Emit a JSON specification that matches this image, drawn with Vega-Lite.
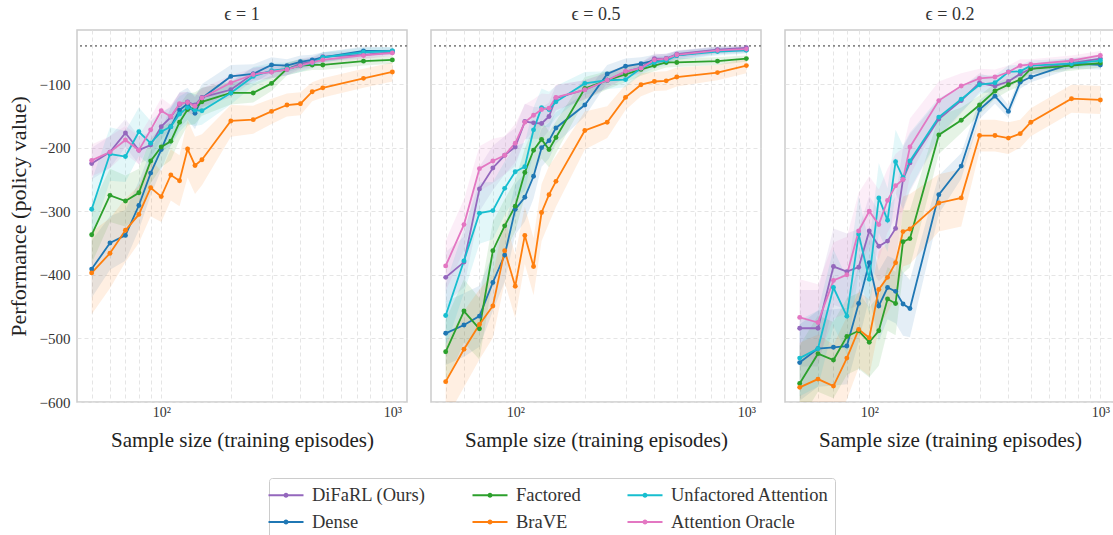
{
"$schema": "https://vega.github.io/schema/vega-lite/v6.json",
"padding": {"left": 7, "top": 6, "right": 0, "bottom": 0},
"bounds": "flush",
"data": {"values": "e,m,x,y,s\nϵ = 1,DiFaRL (Ours),50,-225,25\nϵ = 1,DiFaRL (Ours),60,-207,25\nϵ = 1,DiFaRL (Ours),70,-177,22\nϵ = 1,DiFaRL (Ours),80,-204,22\nϵ = 1,DiFaRL (Ours),90,-196,20\nϵ = 1,DiFaRL (Ours),100,-167,20\nϵ = 1,DiFaRL (Ours),110,-152,18\nϵ = 1,DiFaRL (Ours),120,-132,18\nϵ = 1,DiFaRL (Ours),130,-128,16\nϵ = 1,DiFaRL (Ours),140,-133,16\nϵ = 1,DiFaRL (Ours),150,-121,15\nϵ = 1,DiFaRL (Ours),200,-109,12\nϵ = 1,DiFaRL (Ours),250,-84,10\nϵ = 1,DiFaRL (Ours),300,-81,10\nϵ = 1,DiFaRL (Ours),350,-77,9\nϵ = 1,DiFaRL (Ours),400,-68,8\nϵ = 1,DiFaRL (Ours),450,-65,8\nϵ = 1,DiFaRL (Ours),500,-57,7\nϵ = 1,DiFaRL (Ours),750,-54,6\nϵ = 1,DiFaRL (Ours),1000,-50,5\nϵ = 1,Dense,50,-391,45\nϵ = 1,Dense,60,-350,42\nϵ = 1,Dense,70,-338,40\nϵ = 1,Dense,80,-291,38\nϵ = 1,Dense,90,-240,35\nϵ = 1,Dense,100,-203,32\nϵ = 1,Dense,110,-167,30\nϵ = 1,Dense,120,-141,28\nϵ = 1,Dense,130,-131,25\nϵ = 1,Dense,140,-146,25\nϵ = 1,Dense,150,-122,22\nϵ = 1,Dense,200,-88,18\nϵ = 1,Dense,250,-84,15\nϵ = 1,Dense,300,-70,12\nϵ = 1,Dense,350,-71,10\nϵ = 1,Dense,400,-65,10\nϵ = 1,Dense,450,-62,8\nϵ = 1,Dense,500,-58,8\nϵ = 1,Dense,750,-48,7\nϵ = 1,Dense,1000,-48,6\nϵ = 1,Factored,50,-337,45\nϵ = 1,Factored,60,-275,42\nϵ = 1,Factored,70,-284,40\nϵ = 1,Factored,80,-271,38\nϵ = 1,Factored,90,-221,35\nϵ = 1,Factored,100,-199,32\nϵ = 1,Factored,110,-190,30\nϵ = 1,Factored,120,-160,28\nϵ = 1,Factored,130,-140,25\nϵ = 1,Factored,140,-138,25\nϵ = 1,Factored,150,-128,22\nϵ = 1,Factored,200,-114,18\nϵ = 1,Factored,250,-114,15\nϵ = 1,Factored,300,-99,12\nϵ = 1,Factored,350,-76,10\nϵ = 1,Factored,400,-71,10\nϵ = 1,Factored,450,-70,8\nϵ = 1,Factored,500,-70,8\nϵ = 1,Factored,750,-64,7\nϵ = 1,Factored,1000,-62,6\nϵ = 1,BraVE,50,-397,65\nϵ = 1,BraVE,60,-366,55\nϵ = 1,BraVE,70,-330,50\nϵ = 1,BraVE,80,-305,45\nϵ = 1,BraVE,90,-263,45\nϵ = 1,BraVE,100,-277,40\nϵ = 1,BraVE,110,-243,40\nϵ = 1,BraVE,120,-252,40\nϵ = 1,BraVE,130,-202,45\nϵ = 1,BraVE,140,-228,45\nϵ = 1,BraVE,150,-219,40\nϵ = 1,BraVE,200,-158,25\nϵ = 1,BraVE,250,-156,22\nϵ = 1,BraVE,300,-143,20\nϵ = 1,BraVE,350,-133,18\nϵ = 1,BraVE,400,-131,18\nϵ = 1,BraVE,450,-112,15\nϵ = 1,BraVE,500,-106,15\nϵ = 1,BraVE,750,-91,15\nϵ = 1,BraVE,1000,-81,15\nϵ = 1,Unfactored Attention,50,-297,45\nϵ = 1,Unfactored Attention,60,-210,42\nϵ = 1,Unfactored Attention,70,-214,40\nϵ = 1,Unfactored Attention,80,-175,38\nϵ = 1,Unfactored Attention,90,-193,35\nϵ = 1,Unfactored Attention,100,-175,32\nϵ = 1,Unfactored Attention,110,-167,30\nϵ = 1,Unfactored Attention,120,-147,28\nϵ = 1,Unfactored Attention,130,-137,25\nϵ = 1,Unfactored Attention,140,-141,25\nϵ = 1,Unfactored Attention,150,-142,22\nϵ = 1,Unfactored Attention,200,-114,18\nϵ = 1,Unfactored Attention,250,-88,15\nϵ = 1,Unfactored Attention,300,-79,12\nϵ = 1,Unfactored Attention,350,-76,10\nϵ = 1,Unfactored Attention,400,-71,10\nϵ = 1,Unfactored Attention,450,-67,8\nϵ = 1,Unfactored Attention,500,-58,8\nϵ = 1,Unfactored Attention,750,-50,7\nϵ = 1,Unfactored Attention,1000,-48,6\nϵ = 1,Attention Oracle,50,-220,25\nϵ = 1,Attention Oracle,60,-207,25\nϵ = 1,Attention Oracle,70,-188,22\nϵ = 1,Attention Oracle,80,-204,22\nϵ = 1,Attention Oracle,90,-172,20\nϵ = 1,Attention Oracle,100,-142,20\nϵ = 1,Attention Oracle,110,-151,18\nϵ = 1,Attention Oracle,120,-131,18\nϵ = 1,Attention Oracle,130,-129,16\nϵ = 1,Attention Oracle,140,-135,16\nϵ = 1,Attention Oracle,150,-122,15\nϵ = 1,Attention Oracle,200,-98,12\nϵ = 1,Attention Oracle,250,-85,10\nϵ = 1,Attention Oracle,300,-81,10\nϵ = 1,Attention Oracle,350,-77,9\nϵ = 1,Attention Oracle,400,-71,8\nϵ = 1,Attention Oracle,450,-66,8\nϵ = 1,Attention Oracle,500,-62,7\nϵ = 1,Attention Oracle,750,-55,6\nϵ = 1,Attention Oracle,1000,-51,5\nϵ = 0.5,DiFaRL (Ours),50,-404,40\nϵ = 0.5,DiFaRL (Ours),60,-380,40\nϵ = 0.5,DiFaRL (Ours),70,-265,35\nϵ = 0.5,DiFaRL (Ours),80,-232,35\nϵ = 0.5,DiFaRL (Ours),90,-212,30\nϵ = 0.5,DiFaRL (Ours),100,-199,30\nϵ = 0.5,DiFaRL (Ours),110,-159,28\nϵ = 0.5,DiFaRL (Ours),120,-161,25\nϵ = 0.5,DiFaRL (Ours),130,-162,25\nϵ = 0.5,DiFaRL (Ours),140,-151,22\nϵ = 0.5,DiFaRL (Ours),150,-122,20\nϵ = 0.5,DiFaRL (Ours),200,-109,15\nϵ = 0.5,DiFaRL (Ours),250,-94,12\nϵ = 0.5,DiFaRL (Ours),300,-81,10\nϵ = 0.5,DiFaRL (Ours),350,-74,8\nϵ = 0.5,DiFaRL (Ours),400,-60,8\nϵ = 0.5,DiFaRL (Ours),450,-60,7\nϵ = 0.5,DiFaRL (Ours),500,-53,6\nϵ = 0.5,DiFaRL (Ours),750,-46,5\nϵ = 0.5,DiFaRL (Ours),1000,-43,5\nϵ = 0.5,Dense,50,-492,50\nϵ = 0.5,Dense,60,-479,50\nϵ = 0.5,Dense,70,-465,48\nϵ = 0.5,Dense,80,-412,45\nϵ = 0.5,Dense,90,-369,42\nϵ = 0.5,Dense,100,-297,40\nϵ = 0.5,Dense,110,-278,38\nϵ = 0.5,Dense,120,-245,35\nϵ = 0.5,Dense,130,-200,30\nϵ = 0.5,Dense,140,-189,28\nϵ = 0.5,Dense,150,-169,25\nϵ = 0.5,Dense,200,-133,18\nϵ = 0.5,Dense,250,-84,14\nϵ = 0.5,Dense,300,-72,12\nϵ = 0.5,Dense,350,-68,10\nϵ = 0.5,Dense,400,-63,9\nϵ = 0.5,Dense,450,-60,8\nϵ = 0.5,Dense,500,-55,7\nϵ = 0.5,Dense,750,-47,6\nϵ = 0.5,Dense,1000,-46,5\nϵ = 0.5,Factored,50,-521,50\nϵ = 0.5,Factored,60,-457,50\nϵ = 0.5,Factored,70,-485,48\nϵ = 0.5,Factored,80,-362,45\nϵ = 0.5,Factored,90,-323,42\nϵ = 0.5,Factored,100,-292,40\nϵ = 0.5,Factored,110,-239,38\nϵ = 0.5,Factored,120,-204,35\nϵ = 0.5,Factored,130,-187,30\nϵ = 0.5,Factored,140,-203,28\nϵ = 0.5,Factored,150,-184,25\nϵ = 0.5,Factored,200,-107,18\nϵ = 0.5,Factored,250,-94,14\nϵ = 0.5,Factored,300,-85,12\nϵ = 0.5,Factored,350,-77,10\nϵ = 0.5,Factored,400,-71,9\nϵ = 0.5,Factored,450,-66,8\nϵ = 0.5,Factored,500,-66,7\nϵ = 0.5,Factored,750,-64,6\nϵ = 0.5,Factored,1000,-60,5\nϵ = 0.5,BraVE,50,-568,60\nϵ = 0.5,BraVE,60,-517,60\nϵ = 0.5,BraVE,70,-478,55\nϵ = 0.5,BraVE,80,-449,50\nϵ = 0.5,BraVE,90,-362,50\nϵ = 0.5,BraVE,100,-418,50\nϵ = 0.5,BraVE,110,-338,45\nϵ = 0.5,BraVE,120,-387,45\nϵ = 0.5,BraVE,130,-302,45\nϵ = 0.5,BraVE,140,-274,45\nϵ = 0.5,BraVE,150,-253,40\nϵ = 0.5,BraVE,200,-173,30\nϵ = 0.5,BraVE,250,-160,25\nϵ = 0.5,BraVE,300,-121,20\nϵ = 0.5,BraVE,350,-101,18\nϵ = 0.5,BraVE,400,-96,15\nϵ = 0.5,BraVE,450,-95,15\nϵ = 0.5,BraVE,500,-89,15\nϵ = 0.5,BraVE,750,-82,12\nϵ = 0.5,BraVE,1000,-71,12\nϵ = 0.5,Unfactored Attention,50,-464,50\nϵ = 0.5,Unfactored Attention,60,-378,50\nϵ = 0.5,Unfactored Attention,70,-303,48\nϵ = 0.5,Unfactored Attention,80,-299,45\nϵ = 0.5,Unfactored Attention,90,-264,42\nϵ = 0.5,Unfactored Attention,100,-238,40\nϵ = 0.5,Unfactored Attention,110,-230,38\nϵ = 0.5,Unfactored Attention,120,-172,35\nϵ = 0.5,Unfactored Attention,130,-137,30\nϵ = 0.5,Unfactored Attention,140,-140,28\nϵ = 0.5,Unfactored Attention,150,-128,25\nϵ = 0.5,Unfactored Attention,200,-99,18\nϵ = 0.5,Unfactored Attention,250,-94,14\nϵ = 0.5,Unfactored Attention,300,-93,12\nϵ = 0.5,Unfactored Attention,350,-75,10\nϵ = 0.5,Unfactored Attention,400,-66,9\nϵ = 0.5,Unfactored Attention,450,-63,8\nϵ = 0.5,Unfactored Attention,500,-55,7\nϵ = 0.5,Unfactored Attention,750,-49,6\nϵ = 0.5,Unfactored Attention,1000,-47,5\nϵ = 0.5,Attention Oracle,50,-386,40\nϵ = 0.5,Attention Oracle,60,-321,40\nϵ = 0.5,Attention Oracle,70,-233,35\nϵ = 0.5,Attention Oracle,80,-221,35\nϵ = 0.5,Attention Oracle,90,-212,30\nϵ = 0.5,Attention Oracle,100,-193,30\nϵ = 0.5,Attention Oracle,110,-160,28\nϵ = 0.5,Attention Oracle,120,-149,25\nϵ = 0.5,Attention Oracle,130,-140,25\nϵ = 0.5,Attention Oracle,140,-138,22\nϵ = 0.5,Attention Oracle,150,-121,20\nϵ = 0.5,Attention Oracle,200,-109,15\nϵ = 0.5,Attention Oracle,250,-94,12\nϵ = 0.5,Attention Oracle,300,-80,10\nϵ = 0.5,Attention Oracle,350,-75,8\nϵ = 0.5,Attention Oracle,400,-62,8\nϵ = 0.5,Attention Oracle,450,-60,7\nϵ = 0.5,Attention Oracle,500,-54,6\nϵ = 0.5,Attention Oracle,750,-47,5\nϵ = 0.5,Attention Oracle,1000,-45,5\nϵ = 0.2,DiFaRL (Ours),50,-484,60\nϵ = 0.2,DiFaRL (Ours),60,-484,60\nϵ = 0.2,DiFaRL (Ours),70,-387,60\nϵ = 0.2,DiFaRL (Ours),80,-395,60\nϵ = 0.2,DiFaRL (Ours),90,-388,60\nϵ = 0.2,DiFaRL (Ours),100,-331,55\nϵ = 0.2,DiFaRL (Ours),110,-355,55\nϵ = 0.2,DiFaRL (Ours),120,-347,50\nϵ = 0.2,DiFaRL (Ours),130,-327,50\nϵ = 0.2,DiFaRL (Ours),140,-250,50\nϵ = 0.2,DiFaRL (Ours),150,-224,45\nϵ = 0.2,DiFaRL (Ours),200,-155,30\nϵ = 0.2,DiFaRL (Ours),250,-126,20\nϵ = 0.2,DiFaRL (Ours),300,-98,15\nϵ = 0.2,DiFaRL (Ours),350,-103,12\nϵ = 0.2,DiFaRL (Ours),400,-96,10\nϵ = 0.2,DiFaRL (Ours),450,-84,10\nϵ = 0.2,DiFaRL (Ours),500,-76,8\nϵ = 0.2,DiFaRL (Ours),750,-67,8\nϵ = 0.2,DiFaRL (Ours),1000,-60,7\nϵ = 0.2,Dense,50,-538,60\nϵ = 0.2,Dense,60,-516,60\nϵ = 0.2,Dense,70,-514,60\nϵ = 0.2,Dense,80,-512,60\nϵ = 0.2,Dense,90,-445,60\nϵ = 0.2,Dense,100,-381,55\nϵ = 0.2,Dense,110,-449,55\nϵ = 0.2,Dense,120,-420,50\nϵ = 0.2,Dense,130,-426,50\nϵ = 0.2,Dense,140,-446,50\nϵ = 0.2,Dense,150,-453,45\nϵ = 0.2,Dense,200,-274,30\nϵ = 0.2,Dense,250,-229,20\nϵ = 0.2,Dense,300,-140,15\nϵ = 0.2,Dense,350,-119,12\nϵ = 0.2,Dense,400,-143,10\nϵ = 0.2,Dense,450,-97,10\nϵ = 0.2,Dense,500,-89,8\nϵ = 0.2,Dense,750,-68,8\nϵ = 0.2,Dense,1000,-70,7\nϵ = 0.2,Factored,50,-571,60\nϵ = 0.2,Factored,60,-524,60\nϵ = 0.2,Factored,70,-534,60\nϵ = 0.2,Factored,80,-497,60\nϵ = 0.2,Factored,90,-488,60\nϵ = 0.2,Factored,100,-506,55\nϵ = 0.2,Factored,110,-488,55\nϵ = 0.2,Factored,120,-438,50\nϵ = 0.2,Factored,130,-445,50\nϵ = 0.2,Factored,140,-348,50\nϵ = 0.2,Factored,150,-343,45\nϵ = 0.2,Factored,200,-180,30\nϵ = 0.2,Factored,250,-157,20\nϵ = 0.2,Factored,300,-133,15\nϵ = 0.2,Factored,350,-111,12\nϵ = 0.2,Factored,400,-101,10\nϵ = 0.2,Factored,450,-93,10\nϵ = 0.2,Factored,500,-76,8\nϵ = 0.2,Factored,750,-71,8\nϵ = 0.2,Factored,1000,-67,7\nϵ = 0.2,BraVE,50,-577,70\nϵ = 0.2,BraVE,60,-564,70\nϵ = 0.2,BraVE,70,-575,65\nϵ = 0.2,BraVE,80,-531,65\nϵ = 0.2,BraVE,90,-486,60\nϵ = 0.2,BraVE,100,-499,60\nϵ = 0.2,BraVE,110,-423,60\nϵ = 0.2,BraVE,120,-404,55\nϵ = 0.2,BraVE,130,-381,55\nϵ = 0.2,BraVE,140,-332,55\nϵ = 0.2,BraVE,150,-328,55\nϵ = 0.2,BraVE,200,-287,45\nϵ = 0.2,BraVE,250,-279,45\nϵ = 0.2,BraVE,300,-181,25\nϵ = 0.2,BraVE,350,-181,25\nϵ = 0.2,BraVE,400,-185,25\nϵ = 0.2,BraVE,450,-178,22\nϵ = 0.2,BraVE,500,-160,22\nϵ = 0.2,BraVE,750,-123,22\nϵ = 0.2,BraVE,1000,-125,22\nϵ = 0.2,Unfactored Attention,50,-531,60\nϵ = 0.2,Unfactored Attention,60,-516,60\nϵ = 0.2,Unfactored Attention,70,-420,60\nϵ = 0.2,Unfactored Attention,80,-465,60\nϵ = 0.2,Unfactored Attention,90,-336,60\nϵ = 0.2,Unfactored Attention,100,-407,55\nϵ = 0.2,Unfactored Attention,110,-279,55\nϵ = 0.2,Unfactored Attention,120,-314,50\nϵ = 0.2,Unfactored Attention,130,-222,50\nϵ = 0.2,Unfactored Attention,140,-247,50\nϵ = 0.2,Unfactored Attention,150,-221,45\nϵ = 0.2,Unfactored Attention,200,-152,30\nϵ = 0.2,Unfactored Attention,250,-124,20\nϵ = 0.2,Unfactored Attention,300,-101,15\nϵ = 0.2,Unfactored Attention,350,-98,12\nϵ = 0.2,Unfactored Attention,400,-81,10\nϵ = 0.2,Unfactored Attention,450,-80,10\nϵ = 0.2,Unfactored Attention,500,-71,8\nϵ = 0.2,Unfactored Attention,750,-68,8\nϵ = 0.2,Unfactored Attention,1000,-63,7\nϵ = 0.2,Attention Oracle,50,-467,60\nϵ = 0.2,Attention Oracle,60,-475,60\nϵ = 0.2,Attention Oracle,70,-409,60\nϵ = 0.2,Attention Oracle,80,-400,60\nϵ = 0.2,Attention Oracle,90,-331,60\nϵ = 0.2,Attention Oracle,100,-300,55\nϵ = 0.2,Attention Oracle,110,-321,55\nϵ = 0.2,Attention Oracle,120,-283,50\nϵ = 0.2,Attention Oracle,130,-260,50\nϵ = 0.2,Attention Oracle,140,-250,50\nϵ = 0.2,Attention Oracle,150,-199,45\nϵ = 0.2,Attention Oracle,200,-126,30\nϵ = 0.2,Attention Oracle,250,-103,20\nϵ = 0.2,Attention Oracle,300,-91,15\nϵ = 0.2,Attention Oracle,350,-89,12\nϵ = 0.2,Attention Oracle,400,-81,10\nϵ = 0.2,Attention Oracle,450,-71,10\nϵ = 0.2,Attention Oracle,500,-69,8\nϵ = 0.2,Attention Oracle,750,-63,8\nϵ = 0.2,Attention Oracle,1000,-55,7", "format": {"type": "csv", "parse": {"x": "number", "y": "number", "s": "number"}}},
"facet": {"column": {"field": "e", "type": "nominal", "sort": ["ϵ = 1", "ϵ = 0.5", "ϵ = 0.2"], "title": null, "header": {"labelFont": "Liberation Serif", "labelFontSize": 18, "labelFontWeight": "normal", "labelColor": "#333333", "labelPadding": 6}}},
"spacing": 24,
"spec": {
  "width": 330,
  "height": 372,
  "layer": [
    {
      "mark": {"type": "errorband", "opacity": 0.12, "clip": true},
      "encoding": {
        "x": {"field": "x", "type": "quantitative", "title": "Sample size (training episodes)", "scale": {"type": "log", "domain": [43.2, 1157], "nice": false}},
        "y": {"field": "y", "type": "quantitative", "title": "Performance (policy value)", "scale": {"domain": [-600, -15], "nice": false, "zero": false}},
        "yError": {"field": "s"},
        "color": {"field": "m", "type": "nominal", "scale": {"domain": ["DiFaRL (Ours)", "Dense", "Factored", "BraVE", "Unfactored Attention", "Attention Oracle"], "range": ["#9467bd", "#1f77b4", "#2ca02c", "#ff7f0e", "#17becf", "#e377c2"]}}
      }
    },
    {
      "data": {"values": [{"r": -40}]},
      "mark": {"type": "rule", "strokeDash": [2, 3], "color": "#888888", "strokeWidth": 1.6},
      "encoding": {"y": {"field": "r", "type": "quantitative", "title": "Performance (policy value)"}}
    },
    {
      "mark": {"type": "line", "strokeWidth": 1.8, "clip": true, "point": {"filled": true, "size": 24}},
      "encoding": {
        "x": {"field": "x", "type": "quantitative", "axis": {"values": [50, 60, 70, 80, 90, 100, 200, 300, 400, 500, 600, 700, 800, 900, 1000], "labelExpr": "datum.value == 100 ? '10²' : datum.value == 1000 ? '10³' : ''", "title": "Sample size (training episodes)", "labelFontSize": 14, "labelPadding": 3, "titlePadding": 10, "titleFontSize": 21}},
        "y": {"field": "y", "type": "quantitative", "title": "Performance (policy value)", "axis": {"values": [-600, -550, -500, -450, -400, -350, -300, -250, -200, -150, -100, -50], "labelOverlap": false, "labelExpr": "'−' + abs(datum.value)", "titleFontSize": 22}},
        "color": {"field": "m", "type": "nominal", "legend": {"orient": "none", "legendX": 192, "legendY": 448, "columns": 3, "title": null, "symbolType": "M-1.75,0L1.75,0M-0.15,0A0.15,0.15 0 1,1 0.15,0A0.15,0.15 0 1,1 -0.15,0", "symbolSize": 400, "symbolStrokeWidth": 2, "symbolOpacity": 1, "labelFont": "Liberation Serif", "labelFontSize": 18.5, "labelColor": "#333333", "labelOffset": 15, "strokeColor": "#cccccc", "padding": 6, "cornerRadius": 3, "rowPadding": 6, "columnPadding": 42, "encode": {"symbols": {"update": {"stroke": {"scale": "color", "field": "value"}, "fill": {"scale": "color", "field": "value"}, "opacity": {"value": 1}, "fillOpacity": {"value": 1}, "strokeOpacity": {"value": 1}, "strokeWidth": {"value": 2}}}}}}
      }
    }
  ]
},
"config": {
  "font": "Liberation Serif",
  "view": {"stroke": "#cccccc", "strokeWidth": 1.5},
  "axis": {"domain": false, "ticks": false, "grid": true, "gridColor": "#e2e2e2", "gridDash": [4, 3], "gridWidth": 0.9, "labelFont": "Liberation Serif", "labelFontSize": 15, "labelColor": "#333333", "labelPadding": 7, "titleFont": "Liberation Serif", "titleFontSize": 22, "titleFontWeight": "normal", "titleColor": "#222222", "titlePadding": 9}
}
}
